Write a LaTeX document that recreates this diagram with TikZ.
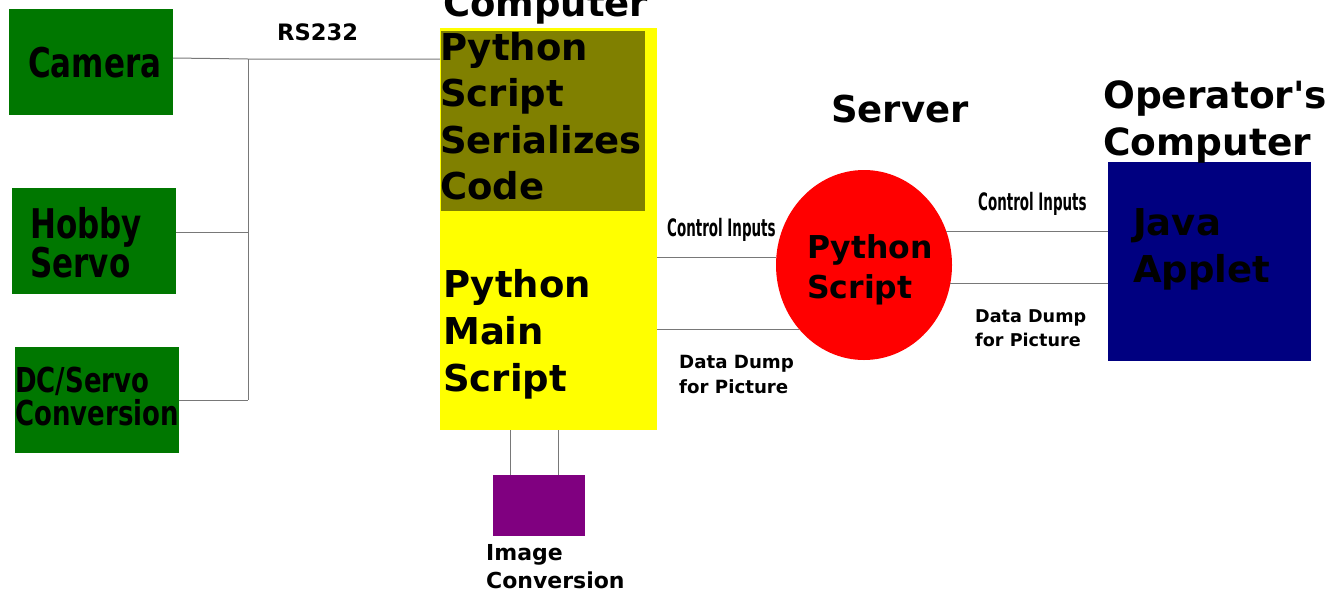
\documentclass[tikz,border=0pt]{standalone}
\usepackage{fontspec}
\usepackage{graphicx}
\usetikzlibrary{shapes.geometric}
\newfontfamily\djv{DejaVu Sans}
\definecolor{grn}{RGB}{0,119,0}
\definecolor{yel}{RGB}{255,255,0}
\definecolor{olv}{RGB}{128,128,0}
\definecolor{rd}{RGB}{255,0,0}
\definecolor{nvy}{RGB}{0,0,128}
\definecolor{prp}{RGB}{128,0,128}
\definecolor{wirecol}{RGB}{120,120,120}
\newcommand{\tall}[1]{\scalebox{1}[1.32]{#1}}
\newcommand{\narrowtxt}[1]{\scalebox{0.56}[1]{#1}}
\newcommand{\mylines}[1]{\begin{tabular}[t]{@{}l@{}}#1\end{tabular}}
\newcommand{\fsz}[2]{\djv\bfseries\fontsize{#1}{#2}\selectfont}
\begin{document}
\begin{tikzpicture}[x=1pt,y=-1pt,
  box/.style={draw=none, inner sep=0pt, outer sep=0pt, anchor=north west},
  txt/.style={inner sep=0pt, anchor=base west, text=black},
  wire/.style={draw=wirecol, line width=1pt}]
\useasboundingbox (0,0) rectangle (1340,595);
% boxes
\node[box, fill=grn, minimum width=164pt, minimum height=106pt] (cam) at (9,9) {};
\node[box, fill=grn, minimum width=164pt, minimum height=106pt] (hob) at (12,188) {};
\node[box, fill=grn, minimum width=164pt, minimum height=106pt] (dcs) at (15,347) {};
\node[box, fill=yel, minimum width=217pt, minimum height=402pt] (comp) at (440,28) {};
\node[box, fill=olv, minimum width=204pt, minimum height=180pt] (ser) at (441,31) {};
\node[ellipse, fill=rd, minimum width=176pt, minimum height=190pt, inner sep=0pt, outer sep=0pt] (srv) at (864,265) {};
\node[box, fill=nvy, minimum width=203pt, minimum height=199pt] (java) at (1108,162) {};
\node[box, fill=prp, minimum width=92pt, minimum height=61pt] (img) at (493,475) {};
% connectors
\coordinate (j1) at (248,59);
\coordinate (j3) at (248,400);
\draw[wire] ([yshift=4pt]cam.east) -- (j1) -- (j1 -| comp.west);
\draw[wire] (j1) -- (j3);
\draw[wire] ([yshift=9pt]hob.east) -- ([yshift=9pt]hob.east -| j1);
\draw[wire] (dcs.east) -- (j3);
\draw[wire] ([yshift=8pt]srv.west) -- ([yshift=8pt]srv.west -| comp.east);
\draw[wire] (srv.225) -- (srv.225 -| comp.east);
\draw[wire] (srv.22) -- (srv.22 -| java.west);
\draw[wire] (srv.-12) -- (srv.-12 -| java.west);
\draw[wire] ([xshift=-29pt]img.north) -- ([xshift=-29pt]img.north |- comp.south);
\draw[wire] ([xshift=19pt]img.north) -- ([xshift=19pt]img.north |- comp.south);
% texts
\node[txt, font=\fsz{31}{30}] (camt) at (28,77) {\tall{Camera}};
\node[txt, font=\fsz{31}{30}] (hobt) at (30,238) {\mylines{\tall{Hobby}\\\tall{Servo}}};
\node[txt, font=\fsz{26}{26}] (dcst) at (15,392) {\mylines{\tall{DC/Servo}\\\tall{Conversion}}};
\node[txt, font=\fsz{22.6}{27}] (rs) at (277,40) {RS232};
\node[txt, font=\fsz{37}{47}] (compt) at (443,16) {Computer};
\node[txt, font=\fsz{37}{46.5}] (sert) at (440,60) {\mylines{Python\\Script\\Serializes\\Code}};
\node[txt, font=\fsz{37}{47}] (maint) at (443,297) {\mylines{Python\\Main\\Script}};
\node[txt, font=\fsz{37}{47}] (servt) at (831,122) {Server};
\node[txt, font=\fsz{31.5}{40}] (pyt) at (807,258) {\mylines{Python\\Script}};
\node[txt, font=\fsz{24}{28}] (cil) at (667,236) {\narrowtxt{Control Inputs}};
\node[txt, font=\fsz{24}{28}] (cir) at (978,210) {\narrowtxt{Control Inputs}};
\node[txt, font=\fsz{18.2}{25}] (ddl) at (679,368) {\mylines{Data Dump\\for Picture}};
\node[txt, font=\fsz{17.6}{24.5}] (ddr) at (975,322) {\mylines{Data Dump\\for Picture}};
\node[txt, font=\fsz{37.5}{47}] (opt) at (1103,108) {\mylines{Operator's\\Computer}};
\node[txt, font=\fsz{37}{47}] (jav) at (1133,235) {\mylines{Java\\Applet}};
\node[txt, font=\fsz{22}{28}] (imt) at (486,560) {\mylines{Image\\Conversion}};
\end{tikzpicture}
\end{document}
